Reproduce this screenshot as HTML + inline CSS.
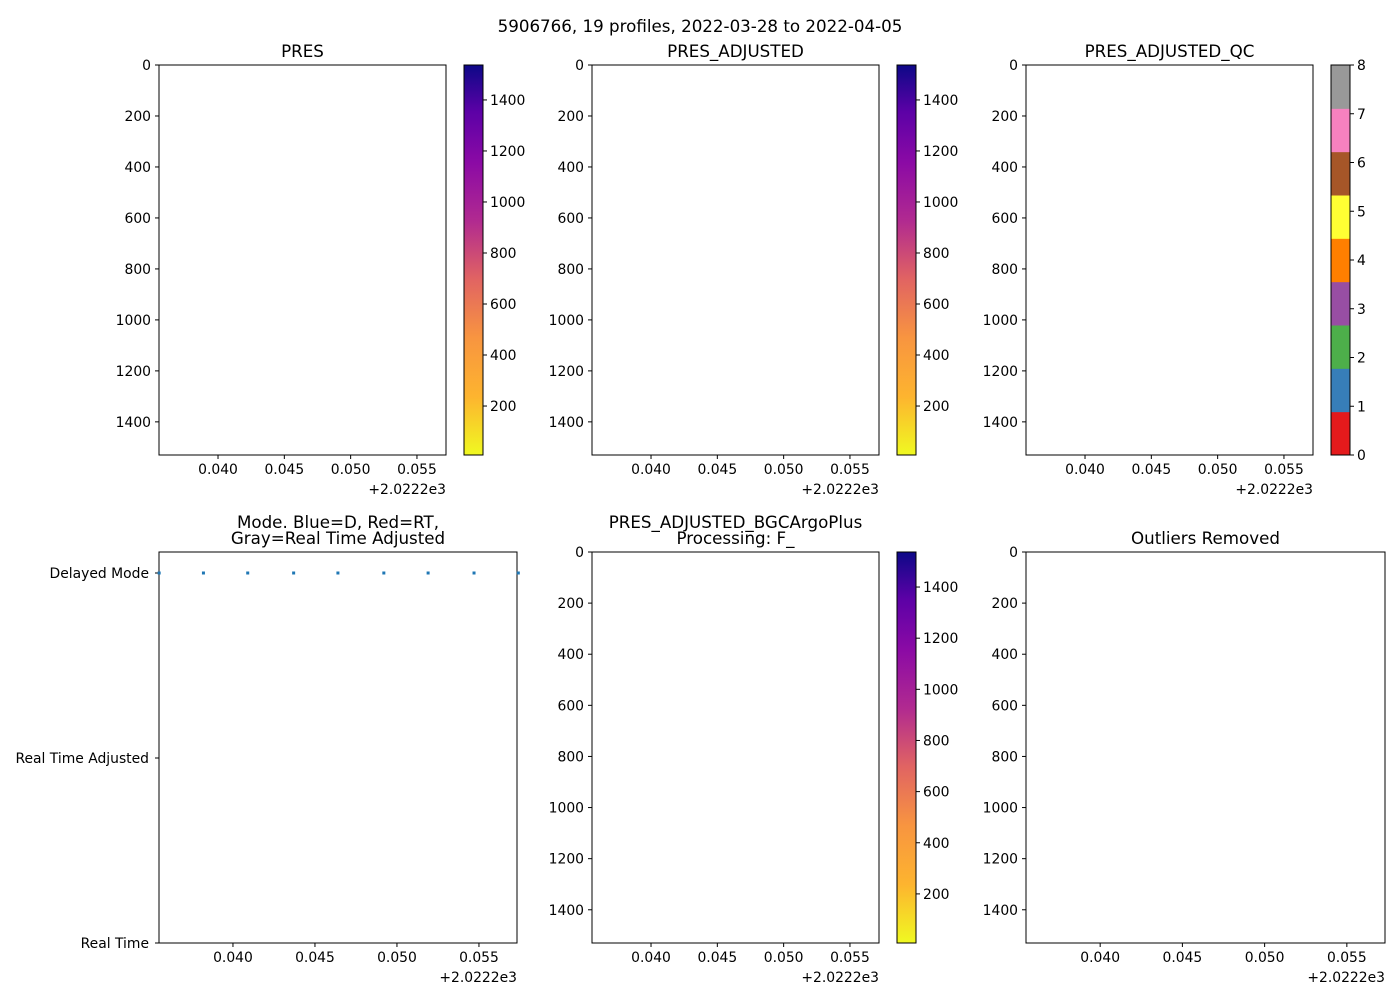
<!DOCTYPE html>
<html><head><meta charset="utf-8"><style>
body{margin:0;background:#fff}
svg{display:block;font-family:"DejaVu Sans","Liberation Sans",sans-serif}
</style></head><body>
<svg id="fig" width="1400" height="1000" xmlns="http://www.w3.org/2000/svg">
<defs>
<linearGradient id="plasma" x1="0" y1="1" x2="0" y2="0">
<stop offset="0" stop-color="#f0f921"/><stop offset="0.15" stop-color="#fdb42f"/>
<stop offset="0.3" stop-color="#f89540"/><stop offset="0.45" stop-color="#e16462"/>
<stop offset="0.6" stop-color="#b12a90"/><stop offset="0.75" stop-color="#8b0aa5"/>
<stop offset="0.88" stop-color="#5c01a6"/><stop offset="1" stop-color="#0d0887"/>
</linearGradient>
</defs>
<text x="700" y="32" text-anchor="middle" font-size="16.7">5906766, 19 profiles, 2022-03-28 to 2022-04-05</text>
</svg>
<script>
const xTicks=[0.040,0.045,0.050,0.055];
const xTickLabels=["0.040","0.045","0.050","0.055"];
const yTicks=[0,200,400,600,800,1000,1200,1400];
const cbTicks=[200,400,600,800,1000,1200,1400];
const qcTicks=[0,1,2,3,4,5,6,7,8];
const qcColors=["#e41a1c","#377eb8","#4daf4a","#984ea3","#ff7f00","#ffff33","#a65628","#f781bf","#999999"];
const modeLabels=["Delayed Mode","Real Time Adjusted","Real Time"];
const modeDates=[0.0355,0.0382,0.0409,0.0437,0.0464,0.0492,0.0519,0.0547,0.0574];
const modeValues=[0,0,0,0,0,0,0,0,0];
const xDomain=[0.03555,0.05719], xDomainWide=[0.03549,0.05732], yDomain=[0,1530], cbDomain=[8,1537];
const TS=13.9, HS=16.7;
const NS="http://www.w3.org/2000/svg", svg=document.getElementById('fig');
function el(t,a,p){const e=document.createElementNS(NS,t);for(const k in a)e.setAttribute(k,a[k]);(p||svg).appendChild(e);return e;}
function txt(x,y,s,anchor,size,p){const e=el('text',{x:x,y:y,'text-anchor':anchor,'font-size':size||TS},p);e.textContent=s;return e;}
function axes(name,x0,y0,w,h,title,xd,ylabels){
  const g=el('g',{});
  
  
  const sx=v=>x0+(v-xd[0])/(xd[1]-xd[0])*w;
  const sy=v=>y0+(v-yDomain[0])/(yDomain[1]-yDomain[0])*h;
  xTicks.forEach((t,i)=>{const x=sx(t);el('line',{x1:x,x2:x,y1:y0+h,y2:y0+h+4,stroke:'#000'},g);txt(x,y0+h+19,xTickLabels[i],'middle',TS,g);});
  txt(x0+w,y0+h+39,'+2.0222e3','end',TS,g);
  if(!ylabels){yTicks.forEach(t=>{const y=sy(t);el('line',{x1:x0-4,x2:x0,y1:y,y2:y,stroke:'#000'},g);txt(x0-8,y+5,String(t),'end',TS,g);});}
  title.forEach((s,i)=>{const t=txt(x0+w/2,y0-8-(title.length-1-i)*16,s,'middle',HS,g);});
  el('rect',{x:x0,y:y0,width:w,height:h,fill:'none',stroke:'#000','stroke-width':1},g);
  return {g,sx,sy};
}
function colorbar(name,x0,y0,h){
  const g=el('g',{});
  
  
  el('rect',{x:x0,y:y0,width:19,height:h,fill:'url(#plasma)',stroke:'#000'},g);
  cbTicks.forEach(t=>{const y=y0+h-(t-cbDomain[0])/(cbDomain[1]-cbDomain[0])*h;el('line',{x1:x0+19,x2:x0+23,y1:y,y2:y,stroke:'#000'},g);txt(x0+26,y+5,String(t),'start',TS,g);});
}
const W=287,H=390;
axes('pres-panel',159,65,W,H,['PRES'],xDomain);colorbar('pres-colorbar',464,65,H);
axes('pres-adjusted-panel',592,65,W,H,['PRES_ADJUSTED'],xDomain);colorbar('pres-adjusted-colorbar',897,65,H);
axes('pres-adjusted-qc-panel',1026,65,W,H,['PRES_ADJUSTED_QC'],xDomain);
(function(){const g=el('g',{});
 const x0=1331,step=H/8;qcColors.forEach((c,i)=>{el('rect',{x:x0,y:65+H-(i+1)*H/9,width:19,height:H/9+0.5,fill:c},g);});
 el('rect',{x:x0,y:65,width:19,height:H,fill:'none',stroke:'#000'},g);
 qcTicks.forEach(t=>{const y=65+H-t*step;el('line',{x1:x0+19,x2:x0+23,y1:y,y2:y,stroke:'#000'},g);txt(x0+26,y+5,String(t),'start',TS,g);});})();
const m=axes('mode-panel',159,552,358,391,['Mode. Blue=D, Red=RT,','Gray=Real Time Adjusted'],xDomainWide,true);
const my=v=>573+v*(943-573)/2;
modeLabels.forEach((s,i)=>{const y=my(i);el('line',{x1:155,x2:159,y1:y,y2:y,stroke:'#000'},m.g);txt(149,y+5,s,'end',TS,m.g);});
modeDates.forEach((d,i)=>{const r=el('rect',{x:m.sx(d)-1.5,y:my(modeValues[i])-1.5,width:3,height:3,fill:'#1f77b4'},m.g);
 
 });
axes('bgc-argo-plus-panel',592,552,W,391,['PRES_ADJUSTED_BGCArgoPlus','Processing: F_'],xDomain);colorbar('bgc-colorbar',897,552,391);
axes('outliers-removed-panel',1026,552,359,391,['Outliers Removed'],xDomainWide);
</script>
</body></html>
